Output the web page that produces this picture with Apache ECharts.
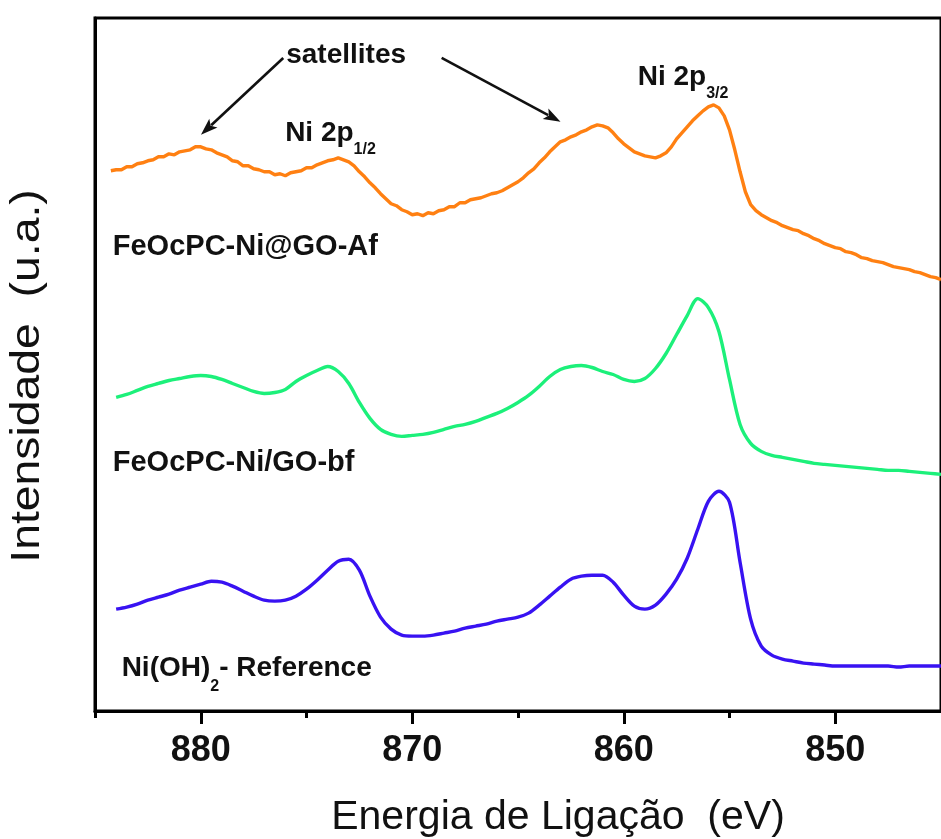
<!DOCTYPE html>
<html>
<head>
<meta charset="utf-8">
<title>Ni 2p XPS</title>
<script src="https://cdn.jsdelivr.net/npm/echarts@6/dist/echarts.min.js"></script>
<style>
  html, body { margin: 0; padding: 0; background: #ffffff; }
  #chart { width: 941px; height: 839px; }
</style>
</head>
<body>
<div id="chart"></div>
<script>
// Binding energy axis (eV), drawn high -> low
const energyMin = 845;
const energyMax = 885;
const majorTicks = [880, 870, 860, 850];
const minorTicks = [885, 875, 865, 855];

// FeOcPC-Ni@GO-Af: sampled every 0.25 eV from 884.25 eV
const afStart = 884.25;
const afStep = 0.25;
const afIntensity = [
  541, 542, 542, 545, 545, 548, 549, 551, 552, 555, 555, 558, 557, 560, 561, 562, 565, 565,
  563, 562, 559, 557, 555, 551, 550, 546, 546, 543, 542, 540, 540, 537, 538, 536,
  539, 540, 541, 544, 544, 547, 549, 551, 552, 554, 552, 550, 546, 540, 535, 529,
  524, 518, 513, 508, 506, 502, 500, 497, 498, 496, 499, 498, 501, 502, 505, 505,
  509, 509, 512, 513, 514, 516, 518, 519, 521, 524, 527, 530, 534, 539, 543, 549,
  554, 560, 565, 570, 572, 575, 577, 580, 582, 585, 587, 586, 584, 579, 573, 568,
  564, 560, 558, 556, 555, 554, 556, 559, 565, 573, 579, 585, 591, 596, 601, 605,
  607, 604, 596, 582, 562, 540, 520, 507, 501, 497, 494, 491, 489, 486, 484, 482,
  481, 478, 476, 473, 471, 468, 466, 464, 463, 460, 459, 457, 454, 453, 451, 450,
  449, 447, 445, 444, 443, 442, 440, 439, 437, 435, 434, 432
];

// FeOcPC-Ni/GO-bf and Ni(OH)2 reference: sampled every 0.5 eV from 884.0 eV
const coarseStart = 884.0;
const coarseStep = 0.5;
const bfIntensity = [
  314, 317, 321, 325, 328, 331, 333, 335, 336, 335,
  332, 328, 324, 320, 318, 319, 322, 330, 336, 341,
  345, 340, 328, 309, 293, 282, 277, 275, 276, 277,
  279, 282, 285, 287, 290, 294, 298, 303, 309, 316,
  325, 335, 342, 345, 346, 344, 340, 337, 332, 330,
  333, 343, 358, 377, 396, 413, 404, 380, 332, 287,
  268, 260, 256, 254, 252, 250, 248, 247, 246, 245,
  244, 243, 242, 241, 241, 240, 239, 238, 237
];
const refIntensity = [
  102, 104, 107, 111, 114, 117, 121, 124, 127, 130,
  129, 125, 120, 115, 111, 110, 111, 115, 122, 131,
  141, 150, 152, 141, 115, 94, 82, 76, 75, 75,
  76, 78, 80, 83, 85, 87, 90, 92, 94, 98,
  106, 115, 124, 132, 135, 136, 136, 129, 116, 105,
  102, 106, 117, 132, 153, 182, 210, 220, 209, 149,
  92, 65, 56, 52, 50, 48, 47, 46, 45, 45,
  45, 45, 45, 45, 44, 45, 45, 45, 45
];

const seriesNames = ['FeOcPC-Ni@GO-Af', 'FeOcPC-Ni/GO-bf', 'Ni(OH)2 - Reference'];
const seriesColors = ['#ff8012', '#1cf07a', '#3812f2'];

const FONT = '"Liberation Sans", Arial, Helvetica, sans-serif';

function toPairs(values, start, step) {
  return values.map((v, i) => [+(start - i * step).toFixed(2), v]);
}

const chart = echarts.init(document.getElementById('chart'), null, { renderer: 'canvas' });

chart.setOption({
  animation: false,
  backgroundColor: '#ffffff',
  grid: {
    left: 95, top: 18, right: -8, bottom: 128,
    show: true, borderColor: '#000', borderWidth: 3, backgroundColor: 'transparent'
  },
  xAxis: [
    {
      type: 'value', min: energyMin, max: energyMax, inverse: true, position: 'bottom',
      axisLine: { show: true, lineStyle: { color: '#000', width: 3 } },
      axisTick: { show: true, customValues: majorTicks, length: 13, lineStyle: { color: '#000', width: 3 } },
      axisLabel: {
        show: true, customValues: majorTicks, margin: 22,
        color: '#111', fontSize: 36, fontWeight: 'bold', fontFamily: FONT
      },
      splitLine: { show: false }
    },
    {
      type: 'value', min: energyMin, max: energyMax, inverse: true, position: 'bottom',
      axisLine: { show: false },
      axisTick: { show: true, customValues: minorTicks, length: 7, lineStyle: { color: '#000', width: 3 } },
      axisLabel: { show: false },
      splitLine: { show: false }
    }
  ],
  yAxis: {
    type: 'value', min: 0, max: 694,
    axisLine: { show: true, lineStyle: { color: '#000', width: 3 } },
    axisTick: { show: false },
    axisLabel: { show: false },
    splitLine: { show: false }
  },
  series: [
    {
      name: seriesNames[0], type: 'line', xAxisIndex: 0, showSymbol: false, smooth: false,
      lineStyle: { color: seriesColors[0], width: 3.4 },
      data: toPairs(afIntensity, afStart, afStep)
    },
    {
      name: seriesNames[1], type: 'line', xAxisIndex: 0, showSymbol: false, smooth: 0.3,
      lineStyle: { color: seriesColors[1], width: 3.4 },
      data: toPairs(bfIntensity, coarseStart, coarseStep)
    },
    {
      name: seriesNames[2], type: 'line', xAxisIndex: 0, showSymbol: false, smooth: 0.3,
      lineStyle: { color: seriesColors[2], width: 3.4 },
      data: toPairs(refIntensity, coarseStart, coarseStep)
    }
  ]
});

// ---- annotations, anchored in data coordinates ----
const measureCtx = document.createElement('canvas').getContext('2d');
function textWidth(str, size, weight) {
  measureCtx.font = weight + ' ' + size + 'px ' + FONT;
  return measureCtx.measureText(str).width;
}
function px(e, v) {
  return chart.convertToPixel({ xAxisIndex: 0, yAxisIndex: 0 }, [e, v]);
}

// runs of text laid out left to right; dy lowers subscripts
function textRun(anchor, pieces) {
  const p = px(anchor[0], anchor[1]);
  let x = p[0];
  const out = [];
  pieces.forEach(pc => {
    out.push({
      type: 'text', x: x, y: p[1] + (pc.dy || 0), silent: true,
      style: {
        text: pc.text, fill: '#111',
        font: pc.weight + ' ' + pc.size + 'px ' + FONT,
        align: 'left', verticalAlign: 'middle',
        textAlign: 'left', textVerticalAlign: 'middle'
      }
    });
    x += textWidth(pc.text, pc.size, pc.weight);
  });
  return out;
}

function arrow(from, to) {
  const a = px(from[0], from[1]);
  const b = px(to[0], to[1]);
  const dx = b[0] - a[0], dy = b[1] - a[1];
  const len = Math.hypot(dx, dy);
  const ux = dx / len, uy = dy / len;
  const headLen = 17, headHalf = 6;
  const base = [b[0] - ux * headLen, b[1] - uy * headLen];
  return [
    {
      type: 'line', silent: true,
      shape: { x1: a[0], y1: a[1], x2: base[0] + ux * 3, y2: base[1] + uy * 3 },
      style: { stroke: '#111', lineWidth: 2.6 }
    },
    {
      type: 'polygon', silent: true,
      shape: {
        points: [
          [b[0], b[1]],
          [base[0] - uy * headHalf, base[1] + ux * headHalf],
          [b[0] - ux * headLen * 0.78, b[1] - uy * headLen * 0.78],
          [base[0] + uy * headHalf, base[1] - ux * headHalf]
        ]
      },
      style: { fill: '#111' }
    }
  ];
}

const B = 'bold';
const graphics = [].concat(
  textRun([875.96, 657], [{ text: 'satellites', size: 28, weight: B }]),
  arrow([876.10, 654], [879.99, 577]),
  arrow([868.61, 654], [862.99, 590]),
  textRun([876.01, 579], [
    { text: 'Ni 2p', size: 28, weight: B },
    { text: '1/2', size: 16, weight: B, dy: 17 }
  ]),
  textRun([859.34, 634.5], [
    { text: 'Ni 2p', size: 28, weight: B },
    { text: '3/2', size: 16, weight: B, dy: 16.5 }
  ]),
  textRun([884.16, 465], [{ text: 'FeOcPC-Ni@GO-Af', size: 29, weight: B }]),
  textRun([884.16, 248], [{ text: 'FeOcPC-Ni/GO-bf', size: 29, weight: B }]),
  textRun([883.74, 43], [
    { text: 'Ni(OH)', size: 28, weight: B },
    { text: '2', size: 16, weight: B, dy: 19 },
    { text: '- Reference', size: 28, weight: B }
  ])
);

// axis titles
graphics.push({
  type: 'text', x: 558, y: 818, silent: true,
  style: {
    text: 'Energia de Ligação  (eV)', fill: '#111', font: 'normal 41px ' + FONT,
    align: 'center', verticalAlign: 'middle', textAlign: 'center', textVerticalAlign: 'middle'
  }
});
graphics.push({
  type: 'text', x: 28, y: 376, rotation: Math.PI / 2, scaleX: 1.13, silent: true,
  style: {
    text: 'Intensidade  (u.a.)', fill: '#111', font: 'normal 41px ' + FONT,
    align: 'center', verticalAlign: 'middle', textAlign: 'center', textVerticalAlign: 'middle'
  }
});

chart.setOption({ graphic: { elements: graphics } });
</script>
</body>
</html>
